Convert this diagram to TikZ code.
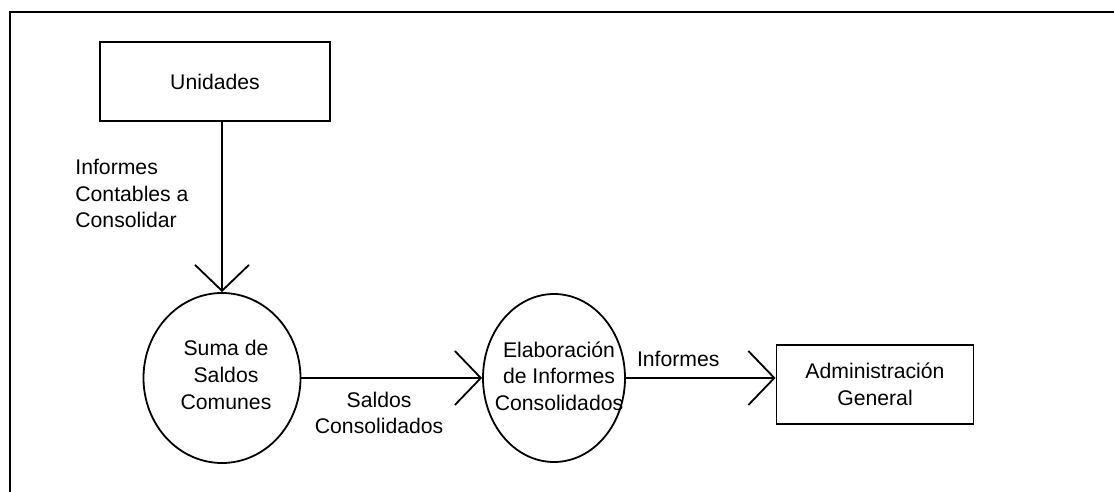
\documentclass[tikz,border=0pt]{standalone}
\usepackage{fontspec}
\setmainfont{Liberation Sans}
\usetikzlibrary{shapes.geometric, positioning, arrows.meta}
\tikzset{
every node/.style={font=\fontsize{10.6}{13.3}\selectfont}, % text size of the scan
flow/.style={draw, line width=0.8pt, -{Straight Barb[length=13pt, width=27pt, line width=0.9pt]}}, % open wide arrow heads
entity/.style={rectangle, draw, line width=0.9pt, minimum height=39.5pt, align=center}, % outside entities
process/.style={ellipse, draw, line width=0.9pt, inner sep=0pt}, % processes
lbl/.style={align=center, inner sep=0pt}, % texts without a border
}

\begin{document}
\begin{tikzpicture}[x=0.5pt, y=-0.5pt]
  \useasboundingbox (0,0) rectangle (1114,492);
  \draw[line width=0.75pt] (10,492) -- (10,12) -- (1114,12);

  \node[entity, minimum width=115pt] (unid) at (215,81.5) {Unidades};
  \node[process, minimum width=78.5pt, minimum height=85pt] (suma) at (222,378) {};
  \node[process, minimum width=71pt, minimum height=84pt] (elab) at (554,378) {};
  \node[entity, minimum width=98.5pt] (admin) at (875,384.5) {Administración\\General};

  \node[lbl] (sumatxt) at (226,375) {Suma de\\Saldos\\Comunes};
  \node[lbl] (elabtxt) at (559,376) {Elaboración\\de Informes\\Consolidados};
  \node[lbl, align=left, anchor=north west] (inftxt) at (75,159) {Informes\\Contables a\\Consolidar};

  \draw[flow] ([xshift=3.5pt]unid.south) -- (suma.north);
  \draw[flow] (suma) -- (elab) node[lbl, below=6.5pt, pos=0.43] (saldos) {Saldos\\Consolidados};
  \draw[flow] (elab) -- (elab -| admin.west) node[lbl, above=5pt, pos=0.35] (informes) {Informes};

\end{tikzpicture}
\end{document}
